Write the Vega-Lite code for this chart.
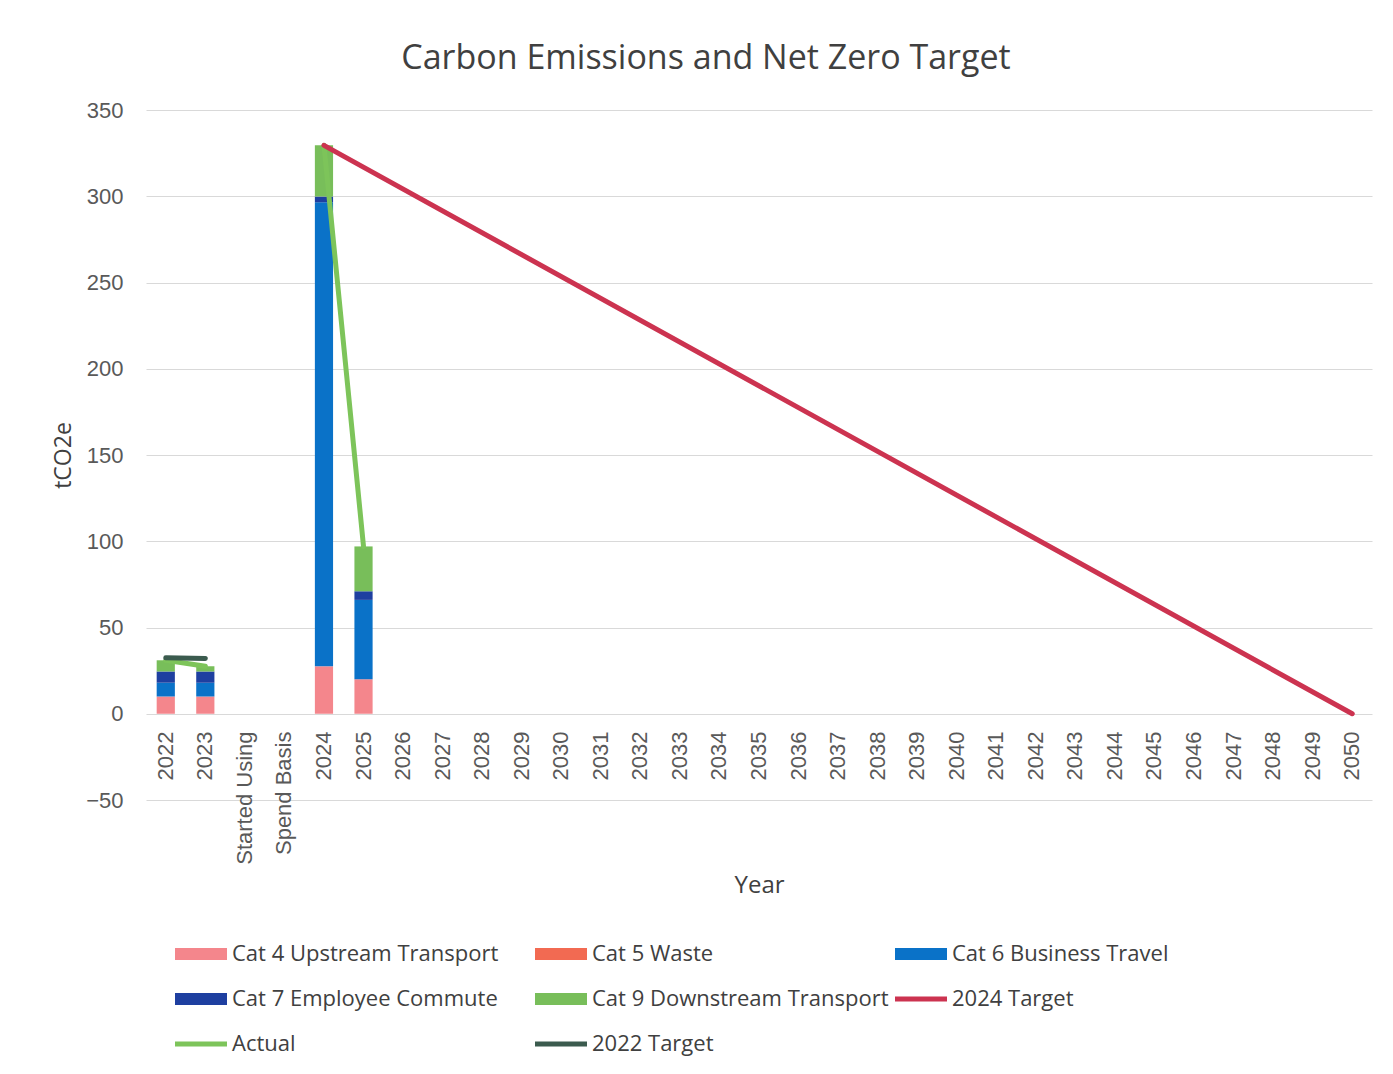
{
  "$schema": "https://vega.github.io/schema/vega-lite/v6.json",
  "width": 1226,
  "height": 690,
  "autosize": {"type": "none"},
  "padding": {"left": 146, "top": 110, "right": 21, "bottom": 274},
  "background": "white",
  "config": {"view": {"stroke": null}, "font": "Liberation Sans"},
  "title": {"text": "Carbon Emissions and Net Zero Target", "font": "Open Sans", "fontSize": 34, "fontWeight": "normal", "color": "#404040", "anchor": "middle", "dx": -53, "offset": 23},
  "datasets": {
    "bars": [
      {"year": "2022", "series": "Cat 4 Upstream Transport", "value": 10},
      {"year": "2022", "series": "Cat 6 Business Travel", "value": 8},
      {"year": "2022", "series": "Cat 7 Employee Commute", "value": 6.5},
      {"year": "2022", "series": "Cat 9 Downstream Transport", "value": 6.5},
      {"year": "2023", "series": "Cat 4 Upstream Transport", "value": 10},
      {"year": "2023", "series": "Cat 6 Business Travel", "value": 8},
      {"year": "2023", "series": "Cat 7 Employee Commute", "value": 6.5},
      {"year": "2023", "series": "Cat 9 Downstream Transport", "value": 3},
      {"year": "2024", "series": "Cat 4 Upstream Transport", "value": 27.5},
      {"year": "2024", "series": "Cat 6 Business Travel", "value": 269},
      {"year": "2024", "series": "Cat 7 Employee Commute", "value": 3.3},
      {"year": "2024", "series": "Cat 9 Downstream Transport", "value": 29.7},
      {"year": "2025", "series": "Cat 4 Upstream Transport", "value": 20},
      {"year": "2025", "series": "Cat 6 Business Travel", "value": 46},
      {"year": "2025", "series": "Cat 7 Employee Commute", "value": 5},
      {"year": "2025", "series": "Cat 9 Downstream Transport", "value": 26}
    ],
    "actual": [
      {"year": "2022", "series": "Actual", "seg": "a", "value": 31},
      {"year": "2023", "series": "Actual", "seg": "a", "value": 27.5},
      {"year": "2024", "series": "Actual", "seg": "b", "value": 329.5},
      {"year": "2025", "series": "Actual", "seg": "b", "value": 97}
    ],
    "target24": [
      {"year": "2024", "series": "2024 Target", "value": 329.5},
      {"year": "2050", "series": "2024 Target", "value": 0}
    ],
    "target22": [
      {"year": "2022", "series": "2022 Target", "value": 32.5},
      {"year": "2023", "series": "2022 Target", "value": 32}
    ]
  },
  "encoding": {
    "x": {
      "field": "year",
      "type": "nominal",
      "sort": null,
      "scale": {
        "domain": ["2022", "2023", "Started Using", "Spend Basis", "2024", "2025", "2026", "2027", "2028", "2029", "2030", "2031", "2032", "2033", "2034", "2035", "2036", "2037", "2038", "2039", "2040", "2041", "2042", "2043", "2044", "2045", "2046", "2047", "2048", "2049", "2050"],
        "paddingInner": 0.54,
        "paddingOuter": 0.27
      },
      "title": "Year",
      "axis": {
        "offset": -83,
        "labelAngle": -90,
        "labelPadding": 14,
        "ticks": false,
        "domain": false,
        "labelFont": "Liberation Sans",
        "labelFontSize": 22,
        "labelColor": "#595959",
        "titleFont": "Open Sans",
        "titleFontSize": 24,
        "titleFontWeight": "normal",
        "titleColor": "#404040",
        "titlePadding": 9
      }
    },
    "y": {
      "field": "value",
      "type": "quantitative",
      "scale": {"domain": [-50, 350], "nice": false},
      "title": "tCO2e",
      "axis": {
        "values": [-50, 0, 50, 100, 150, 200, 250, 300, 350],
        "format": "d",
        "grid": true,
        "gridColor": "#d9d9d9",
        "domain": false,
        "ticks": false,
        "labelPadding": 23,
        "labelFont": "Liberation Sans",
        "labelFontSize": 22,
        "labelColor": "#595959",
        "titleFont": "Open Sans",
        "titleFontSize": 23,
        "titleFontWeight": "normal",
        "titleColor": "#404040",
        "titlePadding": 10
      }
    },
    "color": {
      "field": "series",
      "type": "nominal",
      "scale": {
        "domain": ["Cat 4 Upstream Transport", "Cat 5 Waste", "Cat 6 Business Travel", "Cat 7 Employee Commute", "Cat 9 Downstream Transport", "2024 Target", "Actual", "2022 Target"],
        "range": ["#F4868C", "#F26A52", "#0A72C8", "#1E3FA0", "#78BE5A", "#CC3350", "#7DC45A", "#3B5B4E"]
      },
      "legend": {
        "orient": "none",
        "legendX": 29,
        "legendY": 818,
        "direction": "horizontal",
        "columns": 3,
        "title": null,
        "gridAlign": "all",
        "columnPadding": 6,
        "rowPadding": 8,
        "labelOffset": 5,
        "labelLimit": 500,
        "labelFont": "Open Sans",
        "labelFontSize": 22,
        "labelColor": "#404040",
        "symbolSize": 2704,
        "encode": {
          "symbols": {
            "update": {
              "shape": {"signal": "indexof(['Actual','2022 Target','2024 Target'], datum.value) >= 0 ? 'M-1,-0.1H1V0.1H-1Z' : 'M-1,-0.23H1V0.23H-1Z'"},
              "fill": {"signal": "scale('color', datum.value)"},
              "stroke": {"value": "transparent"},
              "strokeWidth": {"value": 0},
              "opacity": {"value": 1}
            }
          }
        }
      }
    }
  },
  "layer": [
    {
      "data": {"name": "bars"},
      "mark": {"type": "bar"},
      "encoding": {
        "y": {"field": "value", "type": "quantitative", "stack": "zero"},
        "order": {"field": "series", "sort": "ascending"}
      }
    },
    {
      "data": {"name": "actual"},
      "mark": {"type": "line", "strokeWidth": 5, "strokeCap": "round"},
      "encoding": {"detail": {"field": "seg", "type": "nominal"}, "y": {"field": "value", "type": "quantitative", "stack": null}}
    },
    {
      "data": {"name": "target24"},
      "mark": {"type": "line", "strokeWidth": 5, "strokeCap": "round"},
      "encoding": {"y": {"field": "value", "type": "quantitative", "stack": null}}
    },
    {
      "data": {"name": "target22"},
      "mark": {"type": "line", "strokeWidth": 5, "strokeCap": "round"},
      "encoding": {"y": {"field": "value", "type": "quantitative", "stack": null}}
    }
  ]
}
